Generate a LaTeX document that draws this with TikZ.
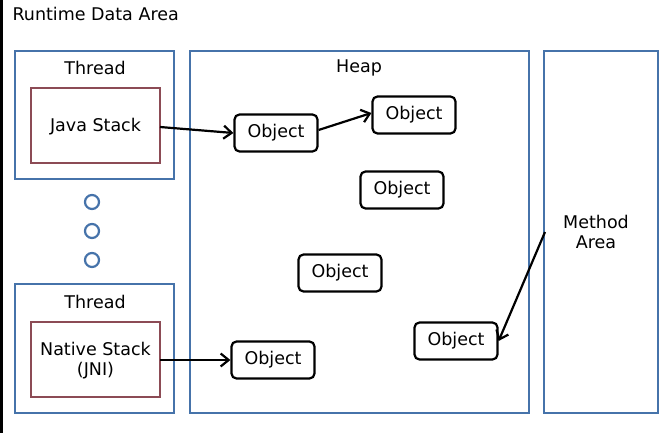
\documentclass[tikz,border=0pt]{standalone}
\usepackage{fontspec}
\setmainfont{DejaVu Sans}
\usepackage{tikz}
\usetikzlibrary{calc}
\usetikzlibrary{arrows.meta}

\definecolor{areablue}{RGB}{70,115,170}
\definecolor{stackred}{RGB}{140,75,85}

\tikzset{
    areabox/.style={draw=areablue, line width=2.2pt},
    stackbox/.style={draw=stackred, line width=2.2pt},
    obj/.style={draw, line width=2.2pt, rounded corners=5pt, minimum width=83pt, minimum height=37pt, inner sep=0pt},
    ref/.style={line width=2.2pt, -{Straight Barb[length=8pt,width=13pt,line width=2.2pt]}}
}

\begin{document}
\begin{tikzpicture}[x=1pt, y=-1pt, font=\fontsize{17.5}{20}\selectfont]

    % Frame
    \useasboundingbox (0,0) rectangle (667,433);
    \fill[white] (0,0) rectangle (667,433);
    \draw[line width=3pt] (1.5,0) -- (1.5,433);
    \node[anchor=base west] (title) at (9,21) {Runtime Data Area};

    % Threads
    \draw[areabox] (15,51) rectangle (174,179);
    \node (thread1) at (95,68) {Thread};
    \draw[stackbox] (31,88) rectangle (160,163);
    \node (jstack) at (95.5,127) {Java Stack};
    \coordinate (jout) at (160,127);

    \foreach \y in {202,231,260}
        \draw[areablue, line width=2.2pt] (92,\y) circle (7);

    \draw[areabox] (15,284) rectangle (174,413);
    \node (thread2) at (95,302) {Thread};
    \draw[stackbox] (31,322) rectangle (160,397);
    \node[align=center] (nstack) at (95.5,361) {Native Stack\\(JNI)};
    \coordinate (nout) at (160,360);

    % Heap
    \draw[areabox] (190,51) rectangle (529,413);
    \node (heap) at (359,68) {Heap};
    \node[obj] (o1) at (276,133) {Object};
    \node[obj] (o2) at (414,115) {Object};
    \node[obj] (o3) at (402,190) {Object};
    \node[obj] (o4) at (340,273) {Object};
    \node[obj] (o5) at (456,341) {Object};
    \node[obj] (o6) at (273,360) {Object};

    % Method Area
    \draw[areabox] (544,51) rectangle (658,413);
    \node[align=center] (method) at (596,232) {Method\\Area};
    \coordinate (mout) at (545,232);

    % References
    \draw[ref] (jout) -- (o1.west);
    \draw[ref] ($(o1.east)+(0,-3)$) -- ($(o2.west)+(0,-2)$);
    \draw[ref] (nout) -- (o6.west);
    \draw[ref] (mout) -- (o5.east);
\end{tikzpicture}
\end{document}
